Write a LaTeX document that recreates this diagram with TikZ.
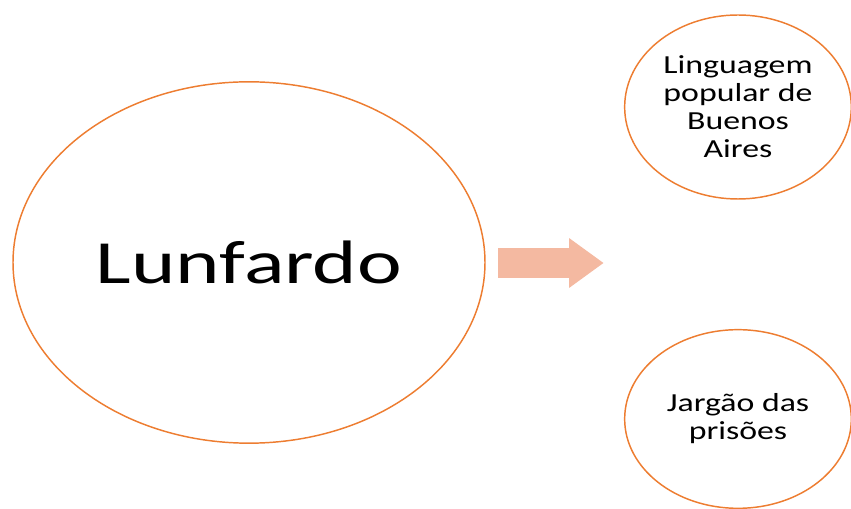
\documentclass[tikz,border=0pt]{standalone}
\usepackage{fontspec}
\setmainfont{Carlito}
\newfontfamily\widefont[FakeStretch=1.3]{Carlito}
\newfontfamily\widerfont[FakeStretch=1.38]{Carlito}
\usetikzlibrary{shapes.geometric,shapes.arrows,positioning}
\definecolor{ringorange}{HTML}{ED7D31}
\definecolor{arrowpeach}{HTML}{F4B9A1}

\begin{document}
\begin{tikzpicture}[x=0.75pt, y=-0.75pt,
  bubble/.style={ellipse, draw=ringorange, line width=1.1pt, inner sep=0pt, align=center, font=\widefont},
  blockarrow/.style={single arrow, fill=arrowpeach, draw=none, minimum height=79pt, inner xsep=0pt, inner ysep=11pt, single arrow head extend=7.5pt, single arrow tip angle=72, single arrow head indent=0pt},
]
  \useasboundingbox (0,0) rectangle (851,509);

  \node[bubble, minimum width=354pt, minimum height=271pt, font=\widerfont\fontsize{46}{50}\selectfont] (lunfardo) at (249,262.5) {Lunfardo};

  \node[bubble, minimum width=170pt, minimum height=138pt, font=\widefont\fontsize{19.5}{21}\selectfont] (popular) at (738,107) {
    Linguagem\\popular de\\Buenos\\Aires
  };

  \node[bubble, minimum width=170pt, minimum height=134pt, font=\widefont\fontsize{19.5}{21}\selectfont] (jargao) at (738,419) {
    Jargão das\\prisões
  };

  \node[blockarrow] (seta) at (540.5,263) {};
\end{tikzpicture}
\end{document}
